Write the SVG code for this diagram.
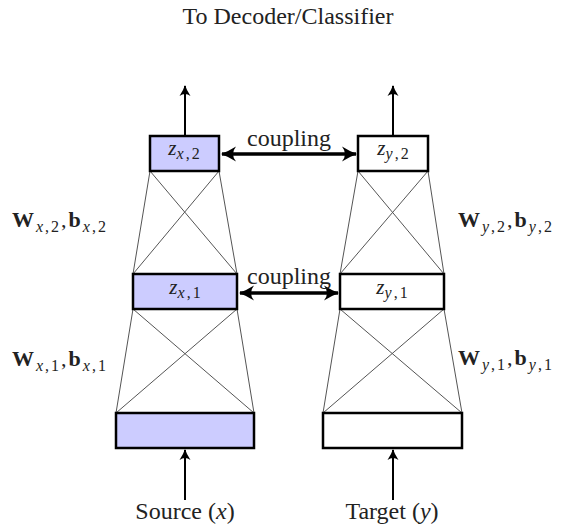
<svg xmlns="http://www.w3.org/2000/svg" width="570" height="527" viewBox="0 0 570 527">
<defs>
<marker id="ah" markerUnits="userSpaceOnUse" markerWidth="14" markerHeight="14" viewBox="-12 -7 14 14" refX="0" refY="0" orient="auto-start-reverse">
<path d="M-10,-5.5 Q-4,-1.5 1,0 Q-4,1.5 -10,5.5 Q-6,0 -10,-5.5 Z" fill="#000"/>
</marker>
<marker id="ahb" markerUnits="userSpaceOnUse" markerWidth="18" markerHeight="18" viewBox="-15 -9 18 18" refX="0" refY="0" orient="auto-start-reverse">
<path d="M-14,-7.5 Q-6,-2.5 1,0 Q-6,2.5 -14,7.5 Q-8,0 -14,-7.5 Z" fill="#000"/>
</marker>
</defs>
<style>
.box{stroke:#000;stroke-width:2.5;}
.fill{fill:#ccccff;}
.nofill{fill:#fff;}
.web{stroke:#555;stroke-width:1;fill:none;}
.arr{stroke:#000;stroke-width:2;fill:none;marker-end:url(#ah);}
.cpl{stroke:#000;stroke-width:3.5;fill:none;marker-end:url(#ahb);marker-start:url(#ahb);}
text{font-family:"Liberation Serif","DejaVu Serif",serif;fill:#222;}
.t{font-size:24px;}
.m{font-size:22px;}
.z{font-size:21px;}
.it{font-style:italic;}
.bf{font-weight:bold;}
.sub{font-size:16px;letter-spacing:2px;}
</style>
<rect width="570" height="527" fill="#fff"/>
<text class="t" x="288" y="24" text-anchor="middle">To Decoder/Classifier</text>

<g id="connectors">
<!-- left web -->
<path class="web" d="M150,171 L133,274 M219,171 L237,274 M150,171 L237,274 M219,171 L133,274"/>
<path class="web" d="M133,309 L116,413 M237,309 L254,413 M133,309 L254,413 M237,309 L116,413"/>
<!-- right web -->
<path class="web" d="M358,171 L340,274 M428,171 L444,274 M358,171 L444,274 M428,171 L340,274"/>
<path class="web" d="M340,309 L323,413 M444,309 L462,413 M340,309 L462,413 M444,309 L323,413"/>
<!-- vertical arrows -->
<line class="arr" x1="185" y1="136" x2="185" y2="86"/>
<line class="arr" x1="393" y1="136" x2="393" y2="86"/>
<line class="arr" x1="185" y1="500" x2="185" y2="450"/>
<line class="arr" x1="393" y1="500" x2="393" y2="450"/>
<!-- coupling -->
<line class="cpl" x1="222" y1="154" x2="356" y2="154"/>
<line class="cpl" x1="240" y1="293" x2="338" y2="293"/>
<text class="t" x="289" y="146" text-anchor="middle">coupling</text>
<text class="t" x="289" y="284" text-anchor="middle">coupling</text>
</g>

<g id="zx2">
<rect class="box fill" x="150" y="136" width="69" height="35"/>
<text class="z" x="185" y="155" text-anchor="middle"><tspan class="it">z</tspan><tspan class="sub" dy="4"><tspan class="it">x</tspan>,2</tspan></text>
</g>
<g id="zx1">
<rect class="box fill" x="133" y="274" width="104" height="35"/>
<text class="z" x="186" y="294" text-anchor="middle"><tspan class="it">z</tspan><tspan class="sub" dy="4"><tspan class="it">x</tspan>,1</tspan></text>
</g>
<g id="source">
<rect class="box fill" x="116" y="413" width="138" height="35"/>
<text class="t" x="185" y="519" text-anchor="middle">Source (<tspan class="it">x</tspan>)</text>
</g>

<g id="zy2">
<rect class="box nofill" x="358" y="136" width="70" height="35"/>
<text class="z" x="394" y="155" text-anchor="middle"><tspan class="it">z</tspan><tspan class="sub" dy="4"><tspan class="it">y</tspan>,2</tspan></text>
</g>
<g id="zy1">
<rect class="box nofill" x="340" y="274" width="104" height="35"/>
<text class="z" x="393" y="294" text-anchor="middle"><tspan class="it">z</tspan><tspan class="sub" dy="4"><tspan class="it">y</tspan>,1</tspan></text>
</g>
<g id="target">
<rect class="box nofill" x="323" y="413" width="139" height="35"/>
<text class="t" x="392" y="519" text-anchor="middle">Target (<tspan class="it">y</tspan>)</text>
</g>

<g id="labels">
<text class="m" x="12" y="227"><tspan class="bf">W</tspan><tspan class="sub" dy="5" dx="2"><tspan class="it">x</tspan>,2</tspan><tspan dy="-5">,</tspan><tspan class="bf" dx="2">b</tspan><tspan class="sub" dy="5" dx="2"><tspan class="it">x</tspan>,2</tspan></text>
<text class="m" x="12" y="366"><tspan class="bf">W</tspan><tspan class="sub" dy="5" dx="2"><tspan class="it">x</tspan>,1</tspan><tspan dy="-5">,</tspan><tspan class="bf" dx="2">b</tspan><tspan class="sub" dy="5" dx="2"><tspan class="it">x</tspan>,1</tspan></text>
<text class="m" x="458" y="227"><tspan class="bf">W</tspan><tspan class="sub" dy="5" dx="2"><tspan class="it">y</tspan>,2</tspan><tspan dy="-5">,</tspan><tspan class="bf" dx="2">b</tspan><tspan class="sub" dy="5" dx="2"><tspan class="it">y</tspan>,2</tspan></text>
<text class="m" x="458" y="365"><tspan class="bf">W</tspan><tspan class="sub" dy="5" dx="2"><tspan class="it">y</tspan>,1</tspan><tspan dy="-5">,</tspan><tspan class="bf" dx="2">b</tspan><tspan class="sub" dy="5" dx="2"><tspan class="it">y</tspan>,1</tspan></text>
</g>
</svg>
